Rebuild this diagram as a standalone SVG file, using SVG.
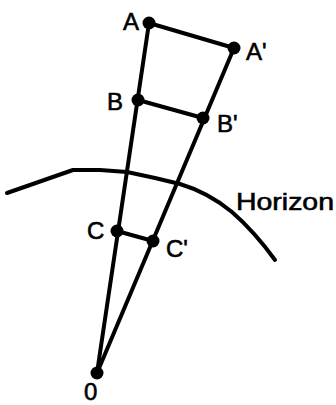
<svg xmlns="http://www.w3.org/2000/svg" width="336" height="405" viewBox="0 0 336 405">
<style>
.ln{stroke:#000;stroke-width:4;fill:none;stroke-linecap:round;stroke-linejoin:round}
.dot{fill:#000}
.lbl{font-family:"Liberation Sans",Arial,sans-serif;font-size:24px;fill:#000;stroke:#000;stroke-width:0.6}
</style>
<rect width="336" height="405" fill="#fff"/>
<g id="horizon">
<path class="ln" d="M7,193 L30,185 L50,178 L73,170 L100,170 L127,172 L155,178 L180,184 C200,190 215,198 232,212 C248,226 262,242 275,260"/>
<text class="lbl" x="236" y="210" textLength="98" lengthAdjust="spacingAndGlyphs">Horizon</text>
</g>
<g id="connectors">
<line class="ln" x1="97" y1="373" x2="149" y2="23"/>
<line class="ln" x1="97" y1="373" x2="234" y2="48"/>
<line class="ln" x1="149" y1="23" x2="234" y2="48"/>
<line class="ln" x1="138" y1="100" x2="203" y2="118"/>
<line class="ln" x1="117" y1="231" x2="153" y2="241"/>
</g>
<g id="A"><circle class="dot" cx="149" cy="23" r="6.5"/><text class="lbl" x="123" y="30">A</text></g>
<g id="A-prime"><circle class="dot" cx="234" cy="48" r="6.5"/><text class="lbl" x="246" y="60">A'</text></g>
<g id="B"><circle class="dot" cx="138" cy="100" r="6.5"/><text class="lbl" x="107" y="110">B</text></g>
<g id="B-prime"><circle class="dot" cx="203" cy="118" r="6.5"/><text class="lbl" x="217" y="132">B'</text></g>
<g id="C"><circle class="dot" cx="117" cy="231" r="6.5"/><text class="lbl" x="87" y="239">C</text></g>
<g id="C-prime"><circle class="dot" cx="153" cy="241" r="6.5"/><text class="lbl" x="166" y="257">C'</text></g>
<g id="O"><circle class="dot" cx="97" cy="373" r="6.5"/><text class="lbl" x="84" y="400">0</text></g>
</svg>
